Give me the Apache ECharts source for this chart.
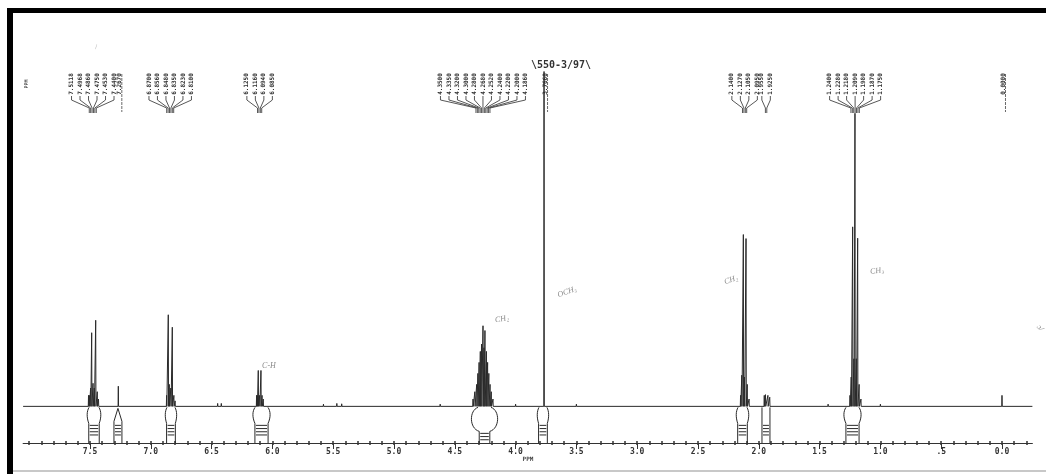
<!DOCTYPE html>
<html><head><meta charset="utf-8">
<script src="https://cdn.jsdelivr.net/npm/echarts@6/dist/echarts.min.js"></script>
<style>html,body{margin:0;padding:0;background:#fff}#c{width:1046px;height:474px}</style>
</head><body><div id="c"></div>
<script>
// ---- data ----
const baselineRange = [8.05, -0.25];
const peakPpm = [7.512,7.505,7.495,7.486,7.475,7.465,7.453,7.44,7.43,7.267,
  6.87,6.856,6.848,6.835,6.823,6.81,6.80,6.45,6.42,
  6.13,6.125,6.116,6.105,6.094,6.085,6.075,5.58,5.47,5.43,4.62,
  4.35,4.335,4.32,4.31,4.30,4.29,4.28,4.268,4.26,4.252,4.24,4.23,4.22,4.21,4.20,4.186,
  4.0,3.766,3.5,
  2.15,2.14,2.127,2.118,2.105,2.095,2.08,1.955,1.945,1.925,1.91,1.43,
  1.25,1.24,1.228,1.218,1.209,1.198,1.187,1.175,1.16,1.0,0.0];
const peakHeight = [3,3,5,20.1,6.3,5,23.5,4,2,5.5,
  3,25.0,6,5,21.6,3,1.5,0.8,0.8,
  3,3,9.8,3,9.8,3,2,0.6,0.8,0.7,0.6,
  2,4,6,9,12,15,17,22,16,20.7,15,12,9,6,4,2,
  0.6,91.4,0.6,
  3,8.5,46.9,8,45.8,6,2,3,3.2,3,2.5,0.6,
  3,8,49,13,80,13,45.9,6,2,0.6,3];
// integration regions [from ppm, to ppm]
const intRegions = [[7.516,7.418],[7.311,7.229],[6.875,6.793],[6.151,6.028],[4.35,4.161],
  [3.816,3.734],[2.179,2.089],[1.982,1.90],[1.291,1.168]];
const intKinds = [0,1,0,0,3,0,0,2,0]; // 0 bulb, 1 tent, 2 straight, 3 round
// printed peak lists
const pickA = ['7.5118','7.4968','7.4860','7.4750','7.4530','7.4400'];
const pickB = ['7.2670'];
const pickC = ['6.8700','6.8560','6.8480','6.8350','6.8230','6.8100'];
const pickD = ['6.1250','6.1160','6.0940','6.0850'];
const pickE = ['4.3500','4.3350','4.3200','4.3000','4.2800','4.2680','4.2520','4.2400','4.2200','4.2000','4.1860'];
const pickF = ['3.7660'];
const pickG = ['2.1400','2.1270','2.1050','2.0950'];
const pickH = ['1.9550','1.9250'];
const pickI = ['1.2400','1.2280','1.2180','1.2090','1.1980','1.1870','1.1750'];
const pickJ = ['0.0000'];
const pickGroups = [pickA,pickB,pickC,pickD,pickE,pickF,pickG,pickH,pickI,pickJ];
// axis ticks
const majorTicks = [7.5,7.0,6.5,6.0,5.5,5.0,4.5,4.0,3.5,3.0,2.5,2.0,1.5,1.0,0.5,0.0];
const tickLabels = ['7.5','7.0','6.5','6.0','5.5','5.0','4.5','4.0','3.5','3.0','2.5','2.0','1.5','1.0','.5','0.0'];
const minorTicks = [];
for (let k = 80; k >= -2; k--) minorTicks.push(k / 10);

// ---- build spectrum trace from peak list ----
const spec = [[baselineRange[0], 0]];
peakPpm.map((p, i) => i).sort((a, b) => peakPpm[b] - peakPpm[a]).forEach(i => {
  const p = peakPpm[i];
  spec.push([p + 0.002, 0], [p, peakHeight[i]], [p - 0.002, 0]);
});
spec.push([baselineRange[1], 0]);

const INK = '#2a2a2a';

function renderInt(params, api) {
  const l = api.value(0), r = api.value(1), kind = api.value(2);
  const pL = api.coord([l, 0]), pR = api.coord([r, 0]);
  const xL = pL[0], xR = pR[0], y0 = pL[1] + 1;
  const yA = api.coord([l, -10])[1];
  const w = xR - xL, cx = (xL + xR) / 2;
  let d = '';
  let n = w * 0.06, topNeck = y0 + 16;
  if (kind === 0) {
    const b = w * 0.12;
    d = `M ${xL+1} ${y0} C ${xL-b} ${y0+4} ${xL-b} ${y0+10} ${xL+n} ${y0+16} L ${xL+n} ${yA} ` +
        `M ${xR-n} ${yA} L ${xR-n} ${y0+16} C ${xR+b} ${y0+10} ${xR+b} ${y0+4} ${xR-1} ${y0}`;
  } else if (kind === 1) {
    n = 1;
    d = `M ${xL+1} ${yA} L ${xL+1} ${y0+14} L ${cx} ${y0+1} L ${xR-1} ${y0+14} L ${xR-1} ${yA}`;
  } else if (kind === 2) {
    n = 1;
    d = `M ${xL+1} ${y0} L ${xL+1} ${yA} M ${xR-1} ${y0} L ${xR-1} ${yA}`;
  } else {
    n = w * 0.27; topNeck = y0 + 24;
    d = `M ${xL+n} ${yA} L ${xL+n} ${y0+24} C ${xL-4} ${y0+21} ${xL-4} ${y0+3} ${xL+5} ${y0} ` +
        `M ${xR-n} ${yA} L ${xR-n} ${y0+24} C ${xR+4} ${y0+21} ${xR+4} ${y0+3} ${xR-5} ${y0}`;
  }
  const children = [{type:'path', shape:{pathData:d}, style:{stroke:INK, lineWidth:1, fill:null}}];
  for (let k = 0; k < 4; k++) {
    const y = topNeck + 2 + k * 3.2;
    if (y < yA - 2) children.push({type:'line', shape:{x1:xL+n+1, y1:y, x2:xR-n-1, y2:y}, style:{stroke:INK, lineWidth:1}});
  }
  return {type:'group', children};
}

function renderPicks(params, api) {
  const g = pickGroups[params.dataIndex];
  const vals = g.map(Number);
  const nn = vals.length;
  const mean = vals.reduce((a, b) => a + b, 0) / nn;
  const cx = api.coord([mean, 0])[0];
  const children = [];
  const sp = 8.5;
  if (nn === 1) {
    children.push({type:'text', x:cx+1, y:84, rotation:Math.PI/2,
      style:{text:g[0], font:'bold 6px "DejaVu Sans Mono"', fill:'#333', align:'center', verticalAlign:'middle'}});
    children.push({type:'line', shape:{x1:cx+3.5, y1:74, x2:cx+3.5, y2:112}, style:{stroke:'#444', lineWidth:0.8, lineDash:[3,1]}});
  } else {
    for (let i = 0; i < nn; i++) {
      const off = i - (nn - 1) / 2;
      const colX = cx + off * sp, fx = cx + off * 1.4;
      children.push({type:'text', x:colX, y:84, rotation:Math.PI/2,
        style:{text:g[i], font:'bold 6px "DejaVu Sans Mono"', fill:'#333', align:'center', verticalAlign:'middle'}});
      children.push({type:'polyline', shape:{points:[[colX,96],[colX,100],[fx,108],[fx,113]]},
        style:{stroke:'#444', lineWidth:0.9, fill:null}});
    }
  }
  return {type:'group', children};
}

const chart = echarts.init(document.getElementById('c'), null, {renderer:'canvas'});
const labelFmt = v => { const i = majorTicks.findIndex(m => Math.abs(m - v) < 1e-6); return i >= 0 ? tickLabels[i] : ''; };
const baseX = {type:'value', min:-0.25, max:8.05, inverse:true, position:'bottom', splitLine:{show:false}};
const hand = {fill:'#8a8a8a', font:'italic 8px "Liberation Serif"'};

chart.setOption({
  animation:false,
  backgroundColor:'#fff',
  grid:{left:23.1, right:13.6, top:40, bottom:31},
  xAxis:[
    Object.assign({}, baseX, {
      axisLine:{show:true, onZero:false, lineStyle:{color:'#333', width:1}},
      axisTick:{show:true, customValues:minorTicks, length:2, inside:false, lineStyle:{color:'#333', width:1.5}},
      axisLabel:{show:true, customValues:majorTicks, formatter:labelFmt, margin:5,
        fontFamily:'DejaVu Sans Mono', fontWeight:'bold', fontSize:8, color:'#333'}
    }),
    Object.assign({}, baseX, {
      axisLine:{show:false, onZero:false},
      axisTick:{show:true, customValues:minorTicks, length:2, inside:true, lineStyle:{color:'#333', width:1.5}},
      axisLabel:{show:false}
    }),
    Object.assign({}, baseX, {
      axisLine:{show:false, onZero:false},
      axisTick:{show:true, customValues:majorTicks, length:6, inside:false, lineStyle:{color:'#333', width:1}},
      axisLabel:{show:false}
    })
  ],
  yAxis:{type:'value', min:-10, max:100, show:false},
  series:[
    {type:'line', data:spec, showSymbol:false, symbol:'none', lineStyle:{color:INK, width:1}, z:3},
    {type:'custom', renderItem:renderInt, data:intRegions.map((r, i) => [r[0], r[1], intKinds[i]]),
      encode:{x:[0,1], y:2}, z:2},
    {type:'custom', renderItem:renderPicks, data:pickGroups.map(g => [Number(g[0]), 0]), encode:{x:0, y:1}, z:2}
  ],
  graphic:[
    {type:'rect', shape:{x:7, y:8, width:1039, height:5}, style:{fill:'#000'}},
    {type:'rect', shape:{x:7, y:8, width:6, height:466}, style:{fill:'#000'}},
    {type:'line', shape:{x1:13, y1:471, x2:1046, y2:471}, style:{stroke:'#c8c8c8', lineWidth:2}},
    {type:'text', x:528, y:459, style:{text:'PPM', font:'bold 6px "DejaVu Sans Mono"', fill:'#444', align:'center', verticalAlign:'middle'}},
    {type:'text', x:561, y:65, style:{text:'\\550-3/97\\', font:'bold 10px "DejaVu Sans Mono"', fill:'#333', align:'center', verticalAlign:'middle'}},
    {type:'text', x:27, y:84, rotation:Math.PI/2, style:{text:'PPM', font:'bold 5px "DejaVu Sans Mono"', fill:'#444', align:'center', verticalAlign:'middle'}},
    {type:'text', x:96, y:47, rotation:-0.6, style:{text:'\\', font:'6px "DejaVu Sans"', fill:'#bbb', align:'center', verticalAlign:'middle'}},
    {type:'text', x:269, y:366, style:Object.assign({text:'C-H', align:'center', verticalAlign:'middle'}, hand)},
    {type:'text', x:502, y:319, rotation:0.2, style:Object.assign({text:'CH₂', align:'center', verticalAlign:'middle'}, hand)},
    {type:'text', x:567, y:292, rotation:0.35, style:Object.assign({text:'OCH₃', align:'center', verticalAlign:'middle'}, hand)},
    {type:'text', x:731, y:280, rotation:0.35, style:Object.assign({text:'CH₂', align:'center', verticalAlign:'middle'}, hand)},
    {type:'text', x:877, y:271, rotation:0.15, style:Object.assign({text:'CH₃', align:'center', verticalAlign:'middle'}, hand)},
    {type:'text', x:1040, y:328, rotation:-0.9, style:Object.assign({text:'ɔ/', align:'center', verticalAlign:'middle'}, hand)}
  ]
});
</script>
</body></html>
